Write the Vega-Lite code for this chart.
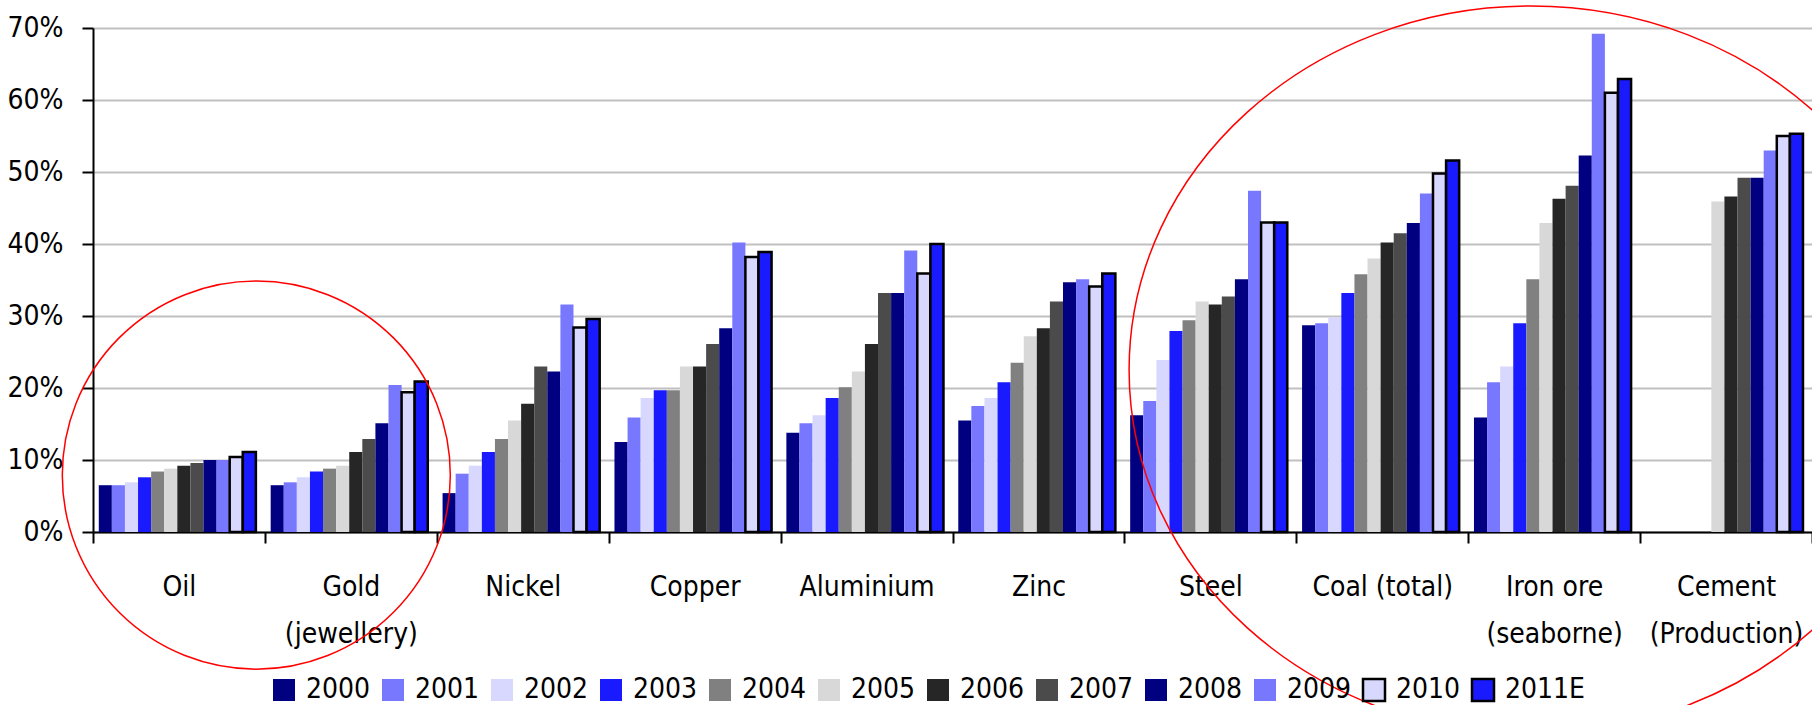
{
  "$schema": "https://vega.github.io/schema/vega-lite/v6.json",
  "width": 1719,
  "height": 504,
  "autosize": {"type": "none"},
  "padding": {"left": 93, "top": 28, "right": 0, "bottom": 173},
  "background": "white",
  "config": {
    "font": "Liberation Sans Narrow, DejaVu Sans Condensed, Liberation Sans, sans-serif",
    "view": {"stroke": null},
    "axis": {
      "labelFont": "Liberation Sans Narrow, DejaVu Sans Condensed, Liberation Sans, sans-serif",
      "labelFontSize": 28,
      "labelColor": "#000000",
      "domainColor": "#000000",
      "domainWidth": 2,
      "tickColor": "#000000",
      "tickWidth": 2,
      "tickSize": 11,
      "gridColor": "#c0c0c0",
      "gridWidth": 2
    },
    "legend": {
      "labelFont": "Liberation Sans Narrow, DejaVu Sans Condensed, Liberation Sans, sans-serif",
      "labelFontSize": 28,
      "labelColor": "#000000"
    }
  },
  "datasets": {
    "shares": [
      {"c": "Oil", "y": "2000", "v": 0.065}, {"c": "Oil", "y": "2001", "v": 0.065}, {"c": "Oil", "y": "2002", "v": 0.069}, {"c": "Oil", "y": "2003", "v": 0.076}, {"c": "Oil", "y": "2004", "v": 0.084}, {"c": "Oil", "y": "2005", "v": 0.088}, {"c": "Oil", "y": "2006", "v": 0.092}, {"c": "Oil", "y": "2007", "v": 0.096}, {"c": "Oil", "y": "2008", "v": 0.100}, {"c": "Oil", "y": "2009", "v": 0.100}, {"c": "Oil", "y": "2010", "v": 0.104}, {"c": "Oil", "y": "2011E", "v": 0.111},
      {"c": "Gold (jewellery)", "y": "2000", "v": 0.065}, {"c": "Gold (jewellery)", "y": "2001", "v": 0.069}, {"c": "Gold (jewellery)", "y": "2002", "v": 0.076}, {"c": "Gold (jewellery)", "y": "2003", "v": 0.084}, {"c": "Gold (jewellery)", "y": "2004", "v": 0.088}, {"c": "Gold (jewellery)", "y": "2005", "v": 0.092}, {"c": "Gold (jewellery)", "y": "2006", "v": 0.111}, {"c": "Gold (jewellery)", "y": "2007", "v": 0.129}, {"c": "Gold (jewellery)", "y": "2008", "v": 0.151}, {"c": "Gold (jewellery)", "y": "2009", "v": 0.204}, {"c": "Gold (jewellery)", "y": "2010", "v": 0.194}, {"c": "Gold (jewellery)", "y": "2011E", "v": 0.209},
      {"c": "Nickel", "y": "2000", "v": 0.054}, {"c": "Nickel", "y": "2001", "v": 0.081}, {"c": "Nickel", "y": "2002", "v": 0.092}, {"c": "Nickel", "y": "2003", "v": 0.111}, {"c": "Nickel", "y": "2004", "v": 0.129}, {"c": "Nickel", "y": "2005", "v": 0.155}, {"c": "Nickel", "y": "2006", "v": 0.178}, {"c": "Nickel", "y": "2007", "v": 0.230}, {"c": "Nickel", "y": "2008", "v": 0.223}, {"c": "Nickel", "y": "2009", "v": 0.316}, {"c": "Nickel", "y": "2010", "v": 0.284}, {"c": "Nickel", "y": "2011E", "v": 0.296},
      {"c": "Copper", "y": "2000", "v": 0.125}, {"c": "Copper", "y": "2001", "v": 0.159}, {"c": "Copper", "y": "2002", "v": 0.186}, {"c": "Copper", "y": "2003", "v": 0.197}, {"c": "Copper", "y": "2004", "v": 0.197}, {"c": "Copper", "y": "2005", "v": 0.230}, {"c": "Copper", "y": "2006", "v": 0.230}, {"c": "Copper", "y": "2007", "v": 0.261}, {"c": "Copper", "y": "2008", "v": 0.283}, {"c": "Copper", "y": "2009", "v": 0.402}, {"c": "Copper", "y": "2010", "v": 0.382}, {"c": "Copper", "y": "2011E", "v": 0.389},
      {"c": "Aluminium", "y": "2000", "v": 0.138}, {"c": "Aluminium", "y": "2001", "v": 0.151}, {"c": "Aluminium", "y": "2002", "v": 0.162}, {"c": "Aluminium", "y": "2003", "v": 0.186}, {"c": "Aluminium", "y": "2004", "v": 0.201}, {"c": "Aluminium", "y": "2005", "v": 0.223}, {"c": "Aluminium", "y": "2006", "v": 0.261}, {"c": "Aluminium", "y": "2007", "v": 0.332}, {"c": "Aluminium", "y": "2008", "v": 0.332}, {"c": "Aluminium", "y": "2009", "v": 0.391}, {"c": "Aluminium", "y": "2010", "v": 0.359}, {"c": "Aluminium", "y": "2011E", "v": 0.400},
      {"c": "Zinc", "y": "2000", "v": 0.155}, {"c": "Zinc", "y": "2001", "v": 0.175}, {"c": "Zinc", "y": "2002", "v": 0.186}, {"c": "Zinc", "y": "2003", "v": 0.208}, {"c": "Zinc", "y": "2004", "v": 0.235}, {"c": "Zinc", "y": "2005", "v": 0.272}, {"c": "Zinc", "y": "2006", "v": 0.283}, {"c": "Zinc", "y": "2007", "v": 0.320}, {"c": "Zinc", "y": "2008", "v": 0.347}, {"c": "Zinc", "y": "2009", "v": 0.351}, {"c": "Zinc", "y": "2010", "v": 0.341}, {"c": "Zinc", "y": "2011E", "v": 0.359},
      {"c": "Steel", "y": "2000", "v": 0.162}, {"c": "Steel", "y": "2001", "v": 0.182}, {"c": "Steel", "y": "2002", "v": 0.239}, {"c": "Steel", "y": "2003", "v": 0.279}, {"c": "Steel", "y": "2004", "v": 0.294}, {"c": "Steel", "y": "2005", "v": 0.320}, {"c": "Steel", "y": "2006", "v": 0.316}, {"c": "Steel", "y": "2007", "v": 0.327}, {"c": "Steel", "y": "2008", "v": 0.351}, {"c": "Steel", "y": "2009", "v": 0.474}, {"c": "Steel", "y": "2010", "v": 0.430}, {"c": "Steel", "y": "2011E", "v": 0.430},
      {"c": "Coal (total)", "y": "2000", "v": 0.287}, {"c": "Coal (total)", "y": "2001", "v": 0.290}, {"c": "Coal (total)", "y": "2002", "v": 0.298}, {"c": "Coal (total)", "y": "2003", "v": 0.332}, {"c": "Coal (total)", "y": "2004", "v": 0.358}, {"c": "Coal (total)", "y": "2005", "v": 0.380}, {"c": "Coal (total)", "y": "2006", "v": 0.402}, {"c": "Coal (total)", "y": "2007", "v": 0.415}, {"c": "Coal (total)", "y": "2008", "v": 0.429}, {"c": "Coal (total)", "y": "2009", "v": 0.470}, {"c": "Coal (total)", "y": "2010", "v": 0.498}, {"c": "Coal (total)", "y": "2011E", "v": 0.516},
      {"c": "Iron ore (seaborne)", "y": "2000", "v": 0.159}, {"c": "Iron ore (seaborne)", "y": "2001", "v": 0.208}, {"c": "Iron ore (seaborne)", "y": "2002", "v": 0.230}, {"c": "Iron ore (seaborne)", "y": "2003", "v": 0.290}, {"c": "Iron ore (seaborne)", "y": "2004", "v": 0.351}, {"c": "Iron ore (seaborne)", "y": "2005", "v": 0.429}, {"c": "Iron ore (seaborne)", "y": "2006", "v": 0.463}, {"c": "Iron ore (seaborne)", "y": "2007", "v": 0.481}, {"c": "Iron ore (seaborne)", "y": "2008", "v": 0.523}, {"c": "Iron ore (seaborne)", "y": "2009", "v": 0.692}, {"c": "Iron ore (seaborne)", "y": "2010", "v": 0.610}, {"c": "Iron ore (seaborne)", "y": "2011E", "v": 0.629},
      {"c": "Cement (Production)", "y": "2005", "v": 0.459}, {"c": "Cement (Production)", "y": "2006", "v": 0.466}, {"c": "Cement (Production)", "y": "2007", "v": 0.492}, {"c": "Cement (Production)", "y": "2008", "v": 0.492}, {"c": "Cement (Production)", "y": "2009", "v": 0.530}, {"c": "Cement (Production)", "y": "2010", "v": 0.550}, {"c": "Cement (Production)", "y": "2011E", "v": 0.553}
    ],
    "ringLeft": [{"c": "Oil", "v": 0.079}],
    "ringRight": [{"c": "Iron ore (seaborne)", "v": 0.225}]
  },
  "layer": [
    {
      "data": {"name": "shares"},
      "mark": {"type": "bar", "strokeWidth": 2.5},
      "encoding": {
        "x": {
          "field": "c", "type": "nominal", "sort": null,
          "scale": {"type": "band", "paddingInner": 0, "paddingOuter": 0},
          "axis": {
            "title": null, "tickBand": "extent", "labelAngle": 0, "labelPadding": 30,
            "labelLineHeight": 47, "labelBaseline": "top",
            "labelExpr": "datum.label == 'Gold (jewellery)' ? ['Gold', '(jewellery)'] : datum.label == 'Iron ore (seaborne)' ? ['Iron ore', '(seaborne)'] : datum.label == 'Cement (Production)' ? ['Cement', '(Production)'] : datum.label"
          }
        },
        "xOffset": {
          "field": "y", "type": "nominal",
          "scale": {"domain": ["2000", "2001", "2002", "2003", "2004", "2005", "2006", "2007", "2008", "2009", "2010", "2011E"], "paddingInner": 0, "paddingOuter": 0.565, "align": 0.39}
        },
        "y": {
          "field": "v", "type": "quantitative",
          "scale": {"domain": [0, 0.7], "nice": false},
          "axis": {"title": null, "format": ".0%", "values": [0, 0.1, 0.2, 0.3, 0.4, 0.5, 0.6, 0.7], "grid": true, "labelPadding": 19, "minExtent": 93, "maxExtent": 93}
        },
        "fill": {
          "field": "y", "type": "nominal",
          "scale": {
            "domain": ["2000", "2001", "2002", "2003", "2004", "2005", "2006", "2007", "2008", "2009", "2010", "2011E"],
            "range": ["#000080", "#7878ff", "#d8d8ff", "#1a1aff", "#808080", "#d8d8d8", "#262626", "#4b4b4b", "#000080", "#7878ff", "#d8d8ff", "#1a1aff"]
          },
          "legend": {"title": null, "orient": "none", "legendX": 177, "legendY": 648, "direction": "horizontal", "symbolType": "square", "symbolSize": 484, "symbolStrokeWidth": 2.5, "labelOffset": 8, "columnPadding": 6, "padding": 0}
        },
        "stroke": {
          "field": "y", "type": "nominal",
          "scale": {
            "domain": ["2000", "2001", "2002", "2003", "2004", "2005", "2006", "2007", "2008", "2009", "2010", "2011E"],
            "range": ["transparent", "transparent", "transparent", "transparent", "transparent", "transparent", "transparent", "transparent", "transparent", "transparent", "#000000", "#000000"]
          },
          "legend": {"title": null, "orient": "none", "legendX": 177, "legendY": 648, "direction": "horizontal", "symbolType": "square", "symbolSize": 484, "symbolStrokeWidth": 2.5, "labelOffset": 8, "columnPadding": 6, "padding": 0}
        }
      }
    },
    {
      "data": {"name": "ringLeft"},
      "mark": {"type": "point", "shape": "circle", "size": 150544, "filled": false, "stroke": "#ff0000", "strokeWidth": 1.5, "opacity": 1},
      "encoding": {
        "x": {"field": "c", "type": "nominal", "sort": null, "bandPosition": 0.95, "scale": {"type": "band", "paddingInner": 0, "paddingOuter": 0}},
        "y": {"field": "v", "type": "quantitative"}
      }
    },
    {
      "data": {"name": "ringRight"},
      "mark": {"type": "point", "shape": "M -1.104 0 A 1.104 1 0 1 0 1.104 0 A 1.104 1 0 1 0 -1.104 0 Z", "size": 529984, "filled": false, "stroke": "#ff0000", "strokeWidth": 1.5, "opacity": 1},
      "encoding": {
        "x": {"field": "c", "type": "nominal", "sort": null, "bandPosition": 0.365, "scale": {"type": "band", "paddingInner": 0, "paddingOuter": 0}},
        "y": {"field": "v", "type": "quantitative"}
      }
    }
  ]
}
